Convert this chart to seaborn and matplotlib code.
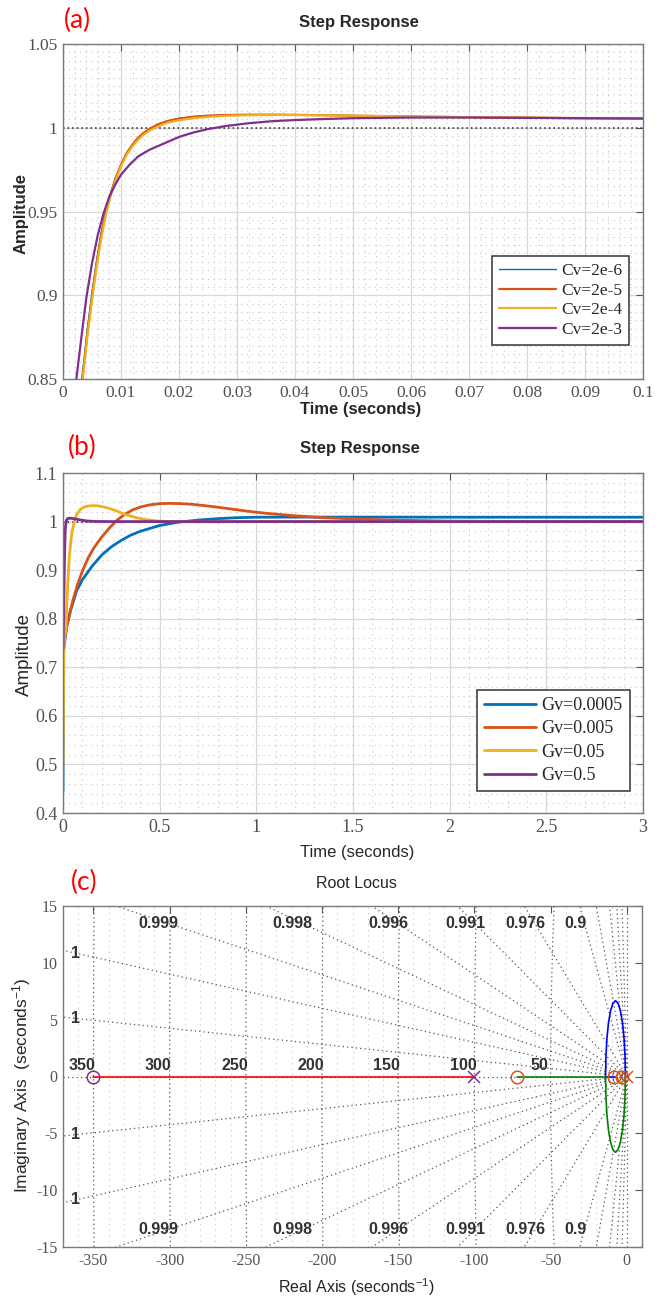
import matplotlib
matplotlib.use("Agg")
import matplotlib.pyplot as plt
from matplotlib.patches import Circle
from matplotlib.ticker import MultipleLocator, FuncFormatter
import numpy as np
import seaborn as sns

# ---------------- (a) step response, Cv sweep ----------------
CV_LABELS = ["Cv=2e-6", "Cv=2e-5", "Cv=2e-4", "Cv=2e-3"]
T_A = [0.0028, 0.0035, 0.0042, 0.0050, 0.0058, 0.0066, 0.0074, 0.0082, 0.0090, 0.0100,
       0.0110, 0.0120, 0.0130, 0.0140, 0.0150, 0.0165, 0.0180, 0.0200, 0.0225, 0.0250,
       0.0280, 0.0320, 0.0360, 0.0400, 0.0450, 0.0500, 0.0600, 0.0700, 0.0800, 0.0900, 0.1000]
CV_2E6 = [0.836, 0.858, 0.880, 0.902, 0.921, 0.938, 0.951, 0.961, 0.970, 0.978,
          0.985, 0.990, 0.9942, 0.9972, 0.9995, 1.0022, 1.0040, 1.0055, 1.0066, 1.0072,
          1.0076, 1.0078, 1.0078, 1.0077, 1.0075, 1.0072, 1.0067, 1.0063, 1.0060, 1.0057, 1.0055]
CV_2E5 = [0.833, 0.855, 0.877, 0.899, 0.919, 0.936, 0.950, 0.960, 0.969, 0.978,
          0.985, 0.990, 0.9942, 0.9972, 0.9995, 1.0022, 1.0040, 1.0055, 1.0066, 1.0072,
          1.0076, 1.0078, 1.0078, 1.0077, 1.0075, 1.0072, 1.0067, 1.0063, 1.0060, 1.0057, 1.0055]
CV_2E4 = [0.830, 0.853, 0.875, 0.897, 0.917, 0.934, 0.948, 0.959, 0.968, 0.977,
          0.984, 0.989, 0.993, 0.9962, 0.9985, 1.0010, 1.0030, 1.0045, 1.0057, 1.0065,
          1.0071, 1.0075, 1.0076, 1.0076, 1.0074, 1.0072, 1.0067, 1.0063, 1.0060, 1.0057, 1.0055]
T_A_SLOW = [0.0018, 0.0023, 0.0030, 0.0040, 0.0050, 0.0060, 0.0070, 0.0080, 0.0090, 0.0100,
            0.0115, 0.0130, 0.0150, 0.0170, 0.0200, 0.0225, 0.0250, 0.0280, 0.0320, 0.0360,
            0.0400, 0.0450, 0.0500, 0.0600, 0.0700, 0.0800, 0.0900, 0.1000]
CV_2E3 = [0.838, 0.850, 0.870, 0.898, 0.919, 0.936, 0.949, 0.959, 0.966, 0.972,
          0.978, 0.983, 0.987, 0.990, 0.9945, 0.9972, 0.9992, 1.0010, 1.0027, 1.0039,
          1.0046, 1.0052, 1.0057, 1.0061, 1.0061, 1.0059, 1.0057, 1.0055]

# ---------------- (b) step response, Gv sweep ----------------
GV_LABELS = ["Gv=0.0005", "Gv=0.005", "Gv=0.05", "Gv=0.5"]
T_GV1 = [0, 0.003, 0.01, 0.02, 0.04, 0.07, 0.1, 0.15, 0.2, 0.25, 0.3, 0.35, 0.4, 0.5,
         0.6, 0.7, 0.8, 0.9, 1.0, 1.2, 1.5, 2.0, 2.5, 3.0]
Y_GV1 = [0.445, 0.735, 0.755, 0.785, 0.818, 0.857, 0.880, 0.908, 0.931, 0.948, 0.961, 0.972,
         0.980, 0.992, 0.999, 1.003, 1.006, 1.008, 1.009, 1.0092, 1.0092, 1.009, 1.009, 1.009]
T_GV2 = [0, 0.01, 0.02, 0.035, 0.05, 0.075, 0.1, 0.13, 0.16, 0.2, 0.24, 0.28, 0.32, 0.36, 0.4,
         0.45, 0.5, 0.55, 0.6, 0.67, 0.75, 0.85, 0.95, 1.05, 1.2, 1.35, 1.5, 1.7, 2.0, 2.5, 3.0]
Y_GV2 = [0.74, 0.765, 0.785, 0.812, 0.836, 0.870, 0.898, 0.925, 0.946, 0.968, 0.987, 1.003,
         1.015, 1.024, 1.030, 1.0345, 1.0368, 1.0375, 1.0370, 1.0355, 1.032, 1.027, 1.0215,
         1.017, 1.012, 1.008, 1.0055, 1.003, 1.001, 1.0, 1.0]
T_GV3 = [0, 0.005, 0.01, 0.0155, 0.02, 0.025, 0.033, 0.045, 0.062, 0.075, 0.09, 0.11, 0.13,
         0.15, 0.18, 0.21, 0.24, 0.27, 0.3, 0.33, 0.37, 0.42, 0.48, 0.55, 0.65, 0.8, 1.0,
         1.5, 2.0, 3.0]
Y_GV3 = [0.50, 0.74, 0.765, 0.78, 0.83, 0.875, 0.93, 0.975, 1.006, 1.017, 1.025, 1.030, 1.032,
         1.0328, 1.0325, 1.030, 1.027, 1.023, 1.018, 1.0135, 1.009, 1.0045, 1.0015, 1.0, 0.9995,
         0.9995, 1.0, 1.0, 1.0, 1.0]
T_GV4 = [0, 0.003, 0.006, 0.009, 0.012, 0.016, 0.02, 0.025, 0.03, 0.04, 0.05, 0.065, 0.08,
         0.1, 0.13, 0.17, 0.25, 0.5, 1.0, 2.0, 3.0]
Y_GV4 = [0.737, 0.80, 0.88, 0.95, 0.985, 1.0, 1.0045, 1.0062, 1.0068, 1.0068, 1.0063, 1.0052,
         1.004, 1.0025, 1.001, 1.0003, 1.0, 1.0, 1.0, 1.0, 1.0]

# ---------------- (c) root locus ----------------
RED_X, RED_Y = [-350, -100], [0, 0]
GREEN_REAL_X, GREEN_REAL_Y = [-72, -13.9], [0, 0]
BLUE_REAL_X, BLUE_REAL_Y = [-13.9, -7.4], [0, 0]
ARC_X = [-13.9, -13.68, -13.03, -12.0, -10.65, -9.08, -7.4, -5.72, -4.15, -2.8, -1.77, -1.12, -0.9]
ARC_UP_Y = [0, 1.73, 3.34, 4.72, 5.78, 6.44, 6.67, 6.44, 5.78, 4.72, 3.34, 1.73, 0]
ARC_LO_Y = [0, -1.73, -3.34, -4.72, -5.78, -6.44, -6.67, -6.44, -5.78, -4.72, -3.34, -1.73, 0]
PURPLE_ZEROS = [-350]
PURPLE_POLES = [-100]
ORANGE_ZEROS = [-72, -8.3, -3.1]
ORANGE_POLES = [0]
ZETA_GRID = [0.2, 0.4, 0.6, 0.8, 0.9, 0.976, 0.991, 0.996, 0.998, 0.999, 0.99955, 0.9999]
WN_GRID = [50, 100, 150, 200, 250, 300, 350]

BLUE, ORANGE, YELLOW, PURPLE = "#0072BD", "#D95319", "#EDB120", "#7E2F8E"

sns.set_style("white")
plt.rcParams["font.family"] = ["Liberation Sans", "DejaVu Sans"]
plt.rcParams["axes.unicode_minus"] = False
plt.rcParams["mathtext.default"] = "regular"

W, H = 667, 1301
fig = plt.figure(figsize=(W / 100, H / 100), dpi=100)


def box(left, top, right, bottom):
    return [left / W, 1 - bottom / H, (right - left) / W, (bottom - top) / H]


def ftext(px, py, s, **kw):
    fig.text(px / W, 1 - py / H, s, ha="center", va="center", **kw)


def matlab_axes(ax, xmaj, xmin, ymaj, ymin, size, minor_y=True):
    ax.xaxis.set_major_locator(MultipleLocator(xmaj))
    ax.yaxis.set_major_locator(MultipleLocator(ymaj))
    ax.xaxis.set_minor_locator(MultipleLocator(xmin))
    if minor_y:
        ax.yaxis.set_minor_locator(MultipleLocator(ymin))
    fmt = FuncFormatter(lambda v, p: f"{v:g}")
    ax.xaxis.set_major_formatter(fmt)
    ax.yaxis.set_major_formatter(fmt)
    ax.tick_params(which="major", direction="in", top=True, right=True, length=5, width=0.8,
                   color="#555555", labelsize=size, labelcolor="#505050", pad=4,
                   labelfontfamily="Liberation Serif")
    ax.tick_params(which="minor", length=0)
    for sp in ax.spines.values():
        sp.set_color("#7a7a7a")
        sp.set_linewidth(1.0)
    ax.set_axisbelow(True)


def step_grid(ax):
    ax.grid(which="major", color="#d8d8d8", lw=0.9, ls="-")
    ax.grid(which="minor", color="#c6c6c6", lw=0.8, ls=(0, (1, 4)))
    ax.axhline(1.0, color="#222222", lw=1.1, ls=(0, (1, 2)), zorder=1.5)


def draw(ax, t, y, color, label, lw):
    sns.lineplot(x=t, y=y, color=color, label=label, linewidth=lw, ax=ax,
                 estimator=None, sort=False)


def legend(ax, anchor, size, hlen, spacing):
    leg = ax.legend(loc="upper left", bbox_to_anchor=anchor, borderaxespad=0,
                    prop={"family": "Liberation Serif", "size": size}, frameon=True,
                    fancybox=False, framealpha=1, edgecolor="#333333", handlelength=hlen,
                    handletextpad=0.3, labelspacing=spacing, borderpad=0.4)
    leg.get_frame().set_linewidth(1.1)


# ---------- panel (a) ----------
ax_a = fig.add_axes(box(63, 44, 643, 379))
step_grid(ax_a)
draw(ax_a, T_A, CV_2E6, BLUE, CV_LABELS[0], 1.0)
draw(ax_a, T_A, CV_2E5, ORANGE, CV_LABELS[1], 1.6)
draw(ax_a, T_A, CV_2E4, YELLOW, CV_LABELS[2], 1.6)
draw(ax_a, T_A_SLOW, CV_2E3, PURPLE, CV_LABELS[3], 1.6)
ax_a.set_xlim(0, 0.1)
ax_a.set_ylim(0.85, 1.05)
matlab_axes(ax_a, 0.01, 0.002, 0.05, 0.005, 12.5)
ax_a.set_xlabel("")
ax_a.set_ylabel("")
legend(ax_a, (0.739, 0.367), 12.5, 3.3, 0.2)

# ---------- panel (b) ----------
ax_b = fig.add_axes(box(63, 473, 643, 813))
step_grid(ax_b)
draw(ax_b, T_GV1, Y_GV1, BLUE, GV_LABELS[0], 2.0)
draw(ax_b, T_GV2, Y_GV2, ORANGE, GV_LABELS[1], 2.0)
draw(ax_b, T_GV3, Y_GV3, YELLOW, GV_LABELS[2], 2.0)
draw(ax_b, T_GV4, Y_GV4, PURPLE, GV_LABELS[3], 2.0)
ax_b.set_xlim(0, 3)
ax_b.set_ylim(0.4, 1.1)
matlab_axes(ax_b, 0.5, 0.1, 0.1, 0.02, 13)
ax_b.set_xlabel("")
ax_b.set_ylabel("")
legend(ax_b, (0.713, 0.362), 13, 2.9, 0.35)

# ---------- panel (c) ----------
ax_c = fig.add_axes(box(63, 906, 642, 1247))
ax_c.grid(which="minor", axis="x", color="#c8c8c8", lw=0.8, ls=(0, (1, 4)))
grid_kw = dict(color="#555555", lw=0.9, ls=(0, (1, 2.5)), zorder=1)
xmin_c, xmax_c, ymax_c = -370, 10, 15
for wn in WN_GRID:
    ax_c.add_patch(Circle((0, 0), wn, fill=False, **grid_kw))
    ax_c.text(-wn - 7.5, 0.35, str(wn), ha="center", va="bottom", fontsize=11.5,
              fontweight="bold", color="#333333")
ax_c.plot([xmin_c, 0], [0, 0], **grid_kw)
ax_c.plot([0, 0], [-ymax_c, ymax_c], **grid_kw)
for z in ZETA_GRID:
    slope = np.sqrt(1 - z ** 2) / z
    for sgn in (1, -1):
        ax_c.plot([0, -400], [0, sgn * 400 * slope], **grid_kw)
        if z < 0.85:
            continue
        x_top = -ymax_c / slope
        if x_top > xmin_c:
            ax_c.text(-13.5 / slope - 6, sgn * 13.5, f"{z:.3g}", ha="center", va="center",
                      fontsize=11.5, fontweight="bold", color="#333333")
        else:
            xl = xmin_c + 8
            ax_c.text(xl, sgn * -xl * slope, f"{z:.3g}", ha="center", va="center",
                      fontsize=11.5, fontweight="bold", color="#333333")

line_kw = dict(linewidth=1.2, ax=ax_c, sort=False, estimator=None)
sns.lineplot(x=RED_X, y=RED_Y, color="#ff0000", **line_kw)
sns.lineplot(x=GREEN_REAL_X, y=GREEN_REAL_Y, color="#008000", **line_kw)
sns.lineplot(x=BLUE_REAL_X, y=BLUE_REAL_Y, color="#0000ff", **line_kw)
sns.lineplot(x=ARC_X, y=ARC_UP_Y, color="#0000ff", **line_kw)
sns.lineplot(x=ARC_X, y=ARC_LO_Y, color="#008000", **line_kw)
ax_c.plot(PURPLE_ZEROS, [0] * len(PURPLE_ZEROS), "o", mfc="none", mec=PURPLE, ms=9, mew=1.1, zorder=4)
ax_c.plot(PURPLE_POLES, [0] * len(PURPLE_POLES), "x", color=PURPLE, ms=8, mew=1.1, zorder=4)
ax_c.plot(ORANGE_ZEROS, [0] * len(ORANGE_ZEROS), "o", mfc="none", mec=ORANGE, ms=9, mew=1.1, zorder=4)
ax_c.plot(ORANGE_POLES, [0] * len(ORANGE_POLES), "x", color=ORANGE, ms=8, mew=1.1, zorder=4)
ax_c.set_xlim(xmin_c, xmax_c)
ax_c.set_ylim(-ymax_c, ymax_c)
matlab_axes(ax_c, 50, 10, 5, 1, 11.5, minor_y=False)
ax_c.set_xlabel("")
ax_c.set_ylabel("")

# ---------- titles, labels ----------
red_kw = dict(color="#ff0000", fontsize=19, family=["Lato", "DejaVu Sans"])
ftext(77, 20, "(a)", **red_kw)
ftext(82, 447, "(b)", **red_kw)
ftext(84, 882, "(c)", **red_kw)

ftext(359, 23, "Step Response", fontsize=12, fontweight="bold")
ftext(361, 410, "Time (seconds)", fontsize=12, fontweight="bold")
ftext(21, 213, "Amplitude", fontsize=12, fontweight="bold", rotation=90)

ftext(360, 448, "Step Response", fontsize=12, fontweight="bold")
ftext(357, 853, "Time (seconds)", fontsize=12)
ftext(24, 655, "Amplitude", fontsize=13.5, rotation=90)

ftext(356, 883, "Root Locus", fontsize=11.5)
ftext(356, 1287, "Real Axis (seconds$^{-1}$)", fontsize=11.5)
ftext(22, 1085, "Imaginary Axis  (seconds$^{-1}$)", fontsize=12.5, rotation=90)

fig.savefig("out.png", dpi=100)
